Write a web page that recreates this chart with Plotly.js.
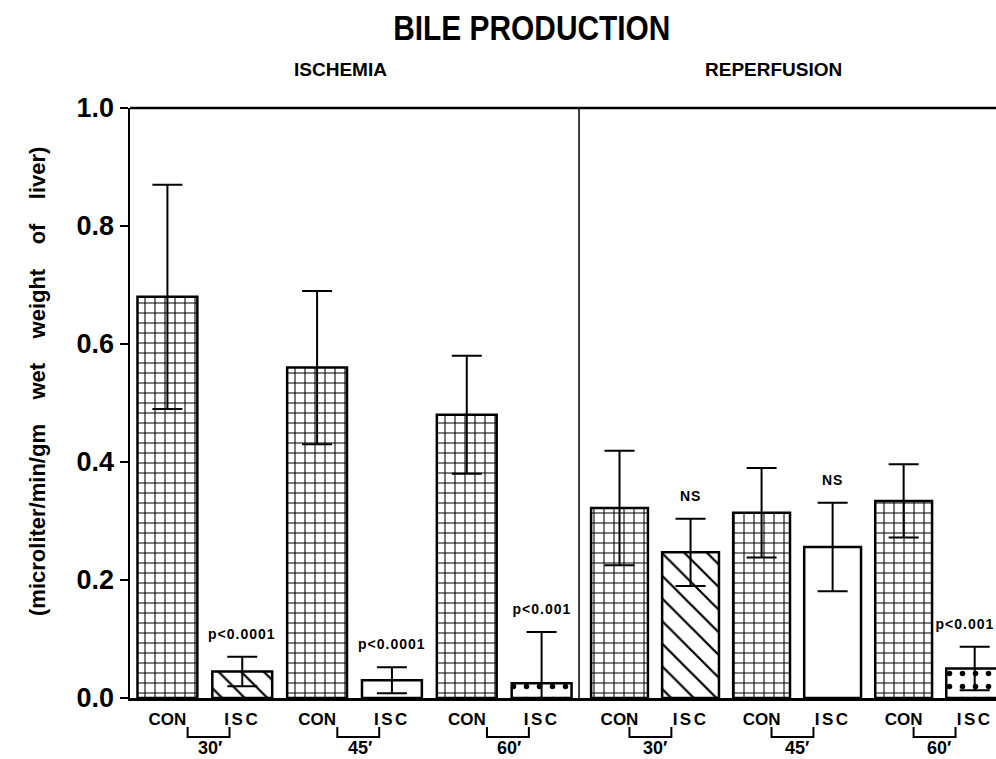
<!DOCTYPE html>
<html>
<head>
<meta charset="utf-8">
<script src="https://cdn.plot.ly/plotly-3.0.1.min.js"></script>
<style>html,body{margin:0;padding:0;background:#fff;}#chart{width:996px;height:759px;}</style>
</head>
<body>
<div id="chart"></div>
<script>
// ---- data ----
const categories = ['CON 30', 'ISC 30', 'CON 45', 'ISC 45', 'CON 60', 'ISC 60'];
const groupLabels = ['CON', 'ISC'];
const periods = ['30\u2032', '45\u2032', '60\u2032'];
const panelTitles = ['ISCHEMIA', 'REPERFUSION'];
const ischemiaMean = [0.68, 0.045, 0.56, 0.03, 0.48, 0.025];
const ischemiaErr = [0.19, 0.025, 0.13, 0.022, 0.10, 0.087];
const reperfusionMean = [0.322, 0.247, 0.314, 0.256, 0.334, 0.050];
const reperfusionErr = [0.097, 0.057, 0.076, 0.075, 0.062, 0.037];
const ischemiaSig = ['', 'p<0.0001', '', 'p<0.0001', '', 'p<0.001'];
const reperfusionSig = ['', 'NS', '', 'NS', '', 'p<0.001'];
const yTickVals = [0, 0.2, 0.4, 0.6, 0.8, 1.0];
const yTitle = '(microliter/min/gm wet weight of liver)';
const chartTitle = 'BILE PRODUCTION';

// ---- styles ----
const FONT = 'Liberation Sans, Arial, Helvetica, sans-serif';
const patternShapes = ['+', '\\', '+', '', '+', '.'];
const patternSizes = [10, 16, 10, 10, 10, 13];
const patternSolidity = [0.2, 0.14, 0.2, 0.1, 0.2, 0.14];
const splitX = 0.5185;

function barTrace(means, errs, xaxis) {
  return {
    type: 'bar', x: categories, y: means, xaxis: xaxis, yaxis: 'y',
    marker: {
      color: '#ffffff',
      line: {color: '#000', width: 2.5},
      pattern: {shape: patternShapes, size: patternSizes, solidity: patternSolidity,
                fgcolor: '#000', fgopacity: 1, bgcolor: '#fff', fillmode: 'overlay'}
    },
    error_y: {type: 'data', array: errs, visible: true, color: '#000', thickness: 2, width: 15},
    hoverinfo: 'skip', showlegend: false
  };
}

const traces = [
  barTrace(ischemiaMean, ischemiaErr, 'x'),
  barTrace(reperfusionMean, reperfusionErr, 'x2')
];

const tickText = categories.map((c, i) => groupLabels[i % 2]);
const xCommon = {
  type: 'category', showline: true, linecolor: '#000', linewidth: 2.5,
  ticks: '', tickvals: categories, ticktext: tickText, showgrid: false, zeroline: false,
  tickfont: {family: FONT, size: 17, color: '#000', weight: 'bold'}, ticklabelstandoff: 4,
  anchor: 'y', fixedrange: true
};

const annotations = [];
const shapes = [];
// significance labels
[[ischemiaSig, ischemiaMean, ischemiaErr, 'x'], [reperfusionSig, reperfusionMean, reperfusionErr, 'x2']].forEach(([sig, m, e, xr]) => {
  sig.forEach((s, i) => {
    if (!s) return;
    annotations.push({
      text: s, xref: xr, yref: 'y', x: categories[i], y: m[i] + e[i],
      xanchor: 'center', yanchor: 'bottom', yshift: 13,
      xshift: (xr === 'x2' && i === categories.length - 1) ? -10 : 0,
      showarrow: false, font: {family: FONT, size: 14, color: '#000', weight: 'bold'}
    });
  });
});
// period brackets
const bracketOffsets = {x: [0.27, 0.83, 0.57], x2: [0.14, 0.73, 0.5]};
['x', 'x2'].forEach(xr => {
  const [a, b, c] = bracketOffsets[xr];
  periods.forEach((p, g) => {
    const base = 2 * g;
    shapes.push({type: 'path', xref: xr, yref: 'paper',
      path: `M ${base + a} -0.049 L ${base + a} -0.066 L ${base + b} -0.066 L ${base + b} -0.049`,
      line: {color: '#000', width: 2}});
    annotations.push({text: p, xref: xr, yref: 'paper', x: base + c, y: -0.084,
      xanchor: 'center', yanchor: 'middle', showarrow: false,
      font: {family: FONT, size: 18, color: '#000', weight: 'bold'}});
  });
});
// panel headings
panelTitles.forEach((t, i) => {
  annotations.push({text: t, xref: 'paper', yref: 'paper', x: i === 0 ? 0.2425 : 0.7436, y: 1.066,
    xanchor: 'center', yanchor: 'middle', showarrow: false,
    font: {family: FONT, size: 19, color: '#000', weight: 'bold'}});
});
// y title with wide word spacing
annotations.push({text: yTitle.split(' ').join('\u00a0\u00a0\u00a0\u00a0'),
  xref: 'paper', yref: 'paper', x: -0.106, y: 0.536, textangle: -90,
  xanchor: 'center', yanchor: 'middle', showarrow: false,
  font: {family: FONT, size: 22, color: '#000', weight: 'bold'}});
// top frame line and divider
shapes.push({type: 'line', xref: 'paper', yref: 'paper', x0: 0, x1: 1, y0: 1, y1: 1, line: {color: '#000', width: 2.5}});
shapes.push({type: 'line', xref: 'paper', yref: 'paper', x0: splitX, x1: splitX, y0: 0, y1: 1, line: {color: '#000', width: 1.5}});

const layout = {
  width: 996, height: 759,
  margin: {l: 130, r: 0, t: 108, b: 61},
  paper_bgcolor: '#fff', plot_bgcolor: '#fff',
  title: {text: chartTitle, xref: 'paper', x: 0.464, xanchor: 'center', yref: 'container', y: 0.964, yanchor: 'middle',
          font: {family: FONT, size: 36, color: '#000', weight: 'bold'}},
  bargap: 0.2,
  xaxis: Object.assign({}, xCommon, {domain: [0, splitX], range: [-0.5, 5.5]}),
  xaxis2: Object.assign({}, xCommon, {domain: [splitX, 1], range: [-0.57, 5.3]}),
  yaxis: {range: [0, 1.0], tickvals: yTickVals, ticktext: yTickVals.map(v => v.toFixed(1)),
          ticks: 'outside', ticklen: 8, tickwidth: 2, tickcolor: '#000',
          showline: true, linecolor: '#000', linewidth: 2.5, showgrid: false, zeroline: false,
          tickfont: {family: FONT, size: 27, color: '#000', weight: 'bold'}, anchor: 'x', fixedrange: true},
  shapes: shapes,
  annotations: annotations,
  showlegend: false
};

Plotly.newPlot('chart', traces, layout, {staticPlot: true, displayModeBar: false}).then(gd => {
  // condensed look of the original title lettering
  const t = gd.querySelector('.gtitle');
  if (t) {
    const bb = t.getBBox();
    const cx = bb.x + bb.width / 2;
    t.setAttribute('transform', `translate(${cx},0) scale(0.83,1) translate(${-cx},0)`);
  }
  // spaced lettering of ISC labels and p-values
  gd.querySelectorAll('.xtick text, .x2tick text').forEach(el => {
    if (el.textContent === 'ISC') el.style.letterSpacing = '2.5px';
  });
  gd.querySelectorAll('.annotation-text').forEach(el => {
    const s = el.textContent;
    if (s.startsWith('p<') || s === 'NS') el.style.letterSpacing = '1px';
  });
});
</script>
</body>
</html>
